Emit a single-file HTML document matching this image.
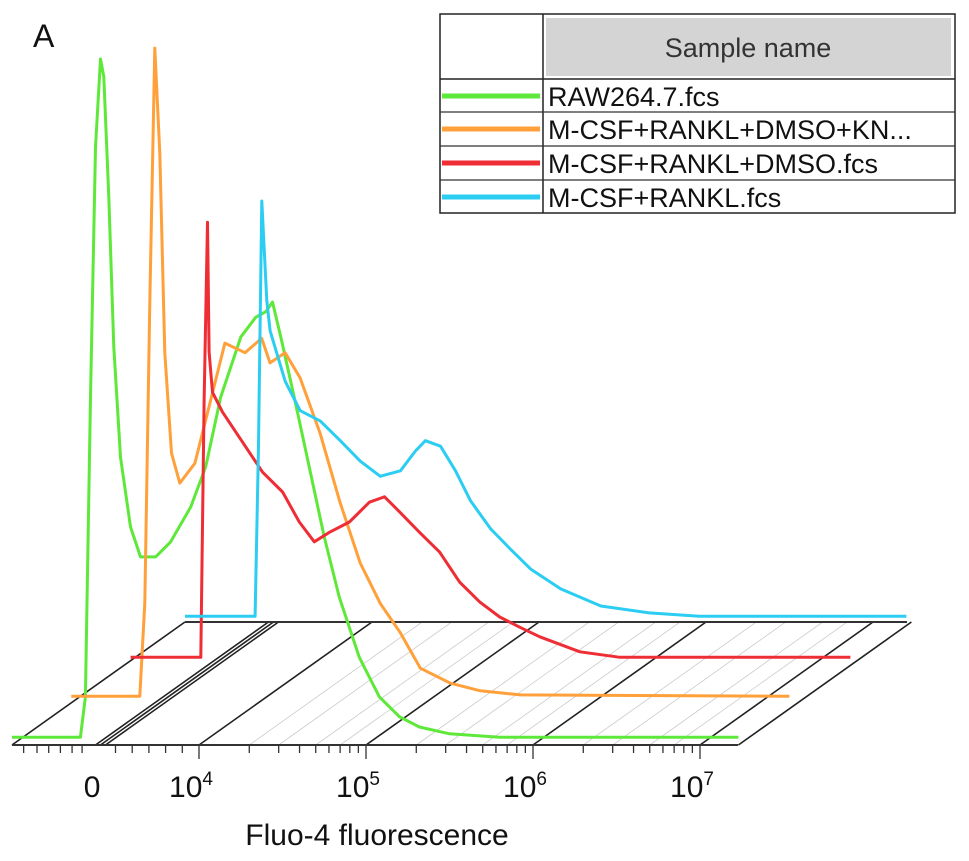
<!DOCTYPE html>
<html><head><meta charset="utf-8"><style>
html,body{margin:0;padding:0;background:#fff;}
svg{display:block;font-family:"Liberation Sans",Arial,sans-serif;}
</style></head><body>
<svg id="chart" width="969" height="861" viewBox="0 0 969 861">
<text x="33" y="47" font-size="32" fill="#111">A</text>
<g id="grid"></g>
<g id="series"></g>
<g id="axis"></g>
<text x="377" y="845" font-size="30" text-anchor="middle" fill="#111">Fluo-4 fluorescence</text>
<g id="legend">
<rect x="440" y="14" width="515" height="199" fill="#fff" stroke="#222" stroke-width="1.5"/>
<rect x="546" y="18" width="405" height="58" fill="#d4d4d4"/>
<line x1="543" y1="14" x2="543" y2="213" stroke="#222" stroke-width="1.5"/>
<line x1="440" y1="79" x2="955" y2="79" stroke="#222" stroke-width="1.5"/>
<text x="748" y="57" font-size="27" text-anchor="middle" fill="#333">Sample name</text>
</g>
</svg>
<script>
const seriesNames = ["RAW264.7.fcs","M-CSF+RANKL+DMSO+KN...","M-CSF+RANKL+DMSO.fcs","M-CSF+RANKL.fcs"];
const seriesColors = ["#5ee83a","#ffa03a","#ee2d35","#2ccdf2"];
const xTickValues = [3.36,4,5,6,7];
const xTickLabels = ["0","10^4","10^5","10^6","10^7"];
const greenX = [2.88,3.29,3.32,3.35,3.38,3.41,3.43,3.46,3.49,3.53,3.59,3.65,3.74,3.83,3.95,4.04,4.13,4.25,4.34,4.40,4.44,4.49,4.57,4.66,4.75,4.84,4.96,5.08,5.20,5.32,5.50,5.80,7.23];
const greenY = [0.7,0.7,6.6,50.5,87.1,100,97.4,79.8,57.8,41.7,31.5,27.1,27.1,29.3,34.4,40.3,50.5,59.3,62.2,63.0,64.4,59.3,50.5,40.3,30.0,21.2,12.4,6.6,3.7,2.2,1.2,0.7,0.7];
const orangeX = [2.89,3.30,3.33,3.36,3.39,3.42,3.45,3.49,3.54,3.63,3.72,3.81,3.93,4.03,4.08,4.17,4.26,4.38,4.50,4.62,4.74,4.86,4.98,5.16,5.34,5.58,7.19];
const orangeY = [0.7,0.7,14.3,58.3,95.6,80.2,51.0,36.3,31.9,34.8,43.6,52.4,51.0,53.1,49.5,51.0,47.3,39.2,29.0,20.2,14.3,10.0,4.8,2.6,1.5,0.9,0.7];
const redX = [2.90,3.32,3.34,3.36,3.37,3.39,3.45,3.57,3.69,3.81,3.91,4.00,4.09,4.21,4.33,4.42,4.51,4.63,4.75,4.87,4.99,5.11,5.23,5.35,5.59,5.83,7.21];
const redY = [0.4,0.4,37.8,64.1,45.1,39.2,36.3,31.9,27.5,24.6,20.2,17.3,18.7,20.2,23.1,23.9,21.7,18.7,15.8,11.4,8.5,6.3,4.8,3.4,1.2,0.4,0.4];
const blueX = [2.88,3.30,3.32,3.34,3.37,3.39,3.48,3.57,3.69,3.81,3.93,4.05,4.17,4.26,4.32,4.41,4.50,4.59,4.71,4.83,4.95,5.13,5.37,5.66,5.96,7.20];
const blueY = [0.4,0.4,24.6,61.2,46.6,42.2,34.8,30.5,29.0,26.1,23.1,20.9,21.7,24.6,26.1,25.3,21.7,17.3,13.2,10.2,7.3,4.4,1.9,0.9,0.4,0.4];
const allX=[greenX,orangeX,redX,blueX], allY=[greenY,orangeY,redY,blueY];

const NS="http://www.w3.org/2000/svg";
const baseY=745, depthDX=173, depthDY=-123;
function xScale(d){return 199+(d-4)*167;}
function yScale(c){return c*6.83;}
function mk(tag,attrs,parent){const e=document.createElementNS(NS,tag);for(const k in attrs)e.setAttribute(k,attrs[k]);parent.appendChild(e);return e;}
const grid=document.getElementById('grid');
const minors=[];
for(let dec=3;dec<8;dec++){[2,3,5,7].forEach(m=>{const d=dec+Math.log10(m);if(d>4&&d<7.2)minors.push(d);});}
minors.forEach(d=>{const x=xScale(d);
const l=mk('line',{x1:x,y1:baseY,x2:x+depthDX,y2:baseY+depthDY,stroke:'#ccc','stroke-width':0.8},grid);

});
[2.88,3.38,3.41,3.44,4,5,6,7,7.23].forEach(d=>{const x=xScale(d);
const l=mk('line',{x1:x,y1:baseY,x2:x+depthDX,y2:baseY+depthDY,stroke:'#222','stroke-width':1.6},grid);

});
const f=mk('line',{x1:12,y1:baseY,x2:738,y2:baseY,stroke:'#333','stroke-width':2},grid);


const b=mk('line',{x1:185,y1:baseY+depthDY,x2:907,y2:baseY+depthDY,stroke:'#333','stroke-width':2},grid);


const sg=document.getElementById('series');
for(let i=0;i<4;i++){
 const ox=i*depthDX/3, oy=baseY+i*depthDY/3-3;
 const pts=allX[i].map((d,j)=>(xScale(d)+ox).toFixed(1)+','+(oy-yScale(allY[i][j])).toFixed(1)).join(' ');
 const p=mk('polyline',{points:pts,fill:'none',stroke:seriesColors[i],'stroke-width':3,'stroke-linejoin':'round'},sg);
 
 
}
const ax=document.getElementById('axis');
const tickDs=[];
for(let dec=3;dec<8;dec++){for(let m=1;m<10;m++){const d=dec+Math.log10(m);if(d>=4&&d<=7.25)tickDs.push([d,m===1]);}}
[2.95,3.03,3.1,3.17,3.24,3.3].forEach(d=>tickDs.push([d,false]));
[3.5,3.6,3.7,3.8,3.9].forEach(d=>tickDs.push([d,false]));
tickDs.forEach(([d,maj])=>{const x=xScale(d);
const t=mk('line',{x1:x,y1:baseY,x2:x,y2:baseY+(maj?14:8),stroke:'#333','stroke-width':1.3},ax);

});
xTickValues.forEach((d,i)=>{const x=xScale(d);
const t=mk('text',{x:x-(i?8:0),y:797,'font-size':30,'text-anchor':'middle',fill:'#111'},ax);


if(i===0){t.textContent='0';}else{t.textContent='10';const s=mk('tspan',{dy:-12,'font-size':19},t);s.textContent=xTickLabels[i].split('^')[1];}});
const lg=document.getElementById('legend');
const rowTops=[79,112,146,180];
for(let i=0;i<4;i++){const y0=rowTops[i];
 if(i>0){const l=mk('line',{x1:440,y1:y0,x2:955,y2:y0,stroke:'#333','stroke-width':1.2},lg);}
 const s=mk('line',{x1:442,y1:y0+17,x2:540,y2:y0+17,stroke:seriesColors[i],'stroke-width':5},lg);
 
 
 const t=mk('text',{x:548,y:y0+27,'font-size':27,fill:'#111'},lg);
 t.textContent=seriesNames[i];
 
 
}
</script>
</body></html>
